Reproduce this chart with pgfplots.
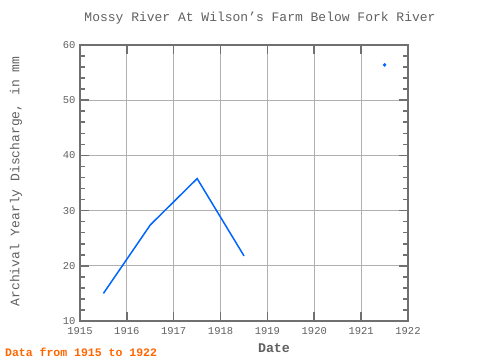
\documentclass[border=0pt]{standalone}
\usepackage{pgfplots}
\pgfplotsset{compat=1.18}
\usepackage{fontspec}
\setmainfont{Liberation Mono}
\definecolor{txt}{HTML}{606060}
\definecolor{frame}{HTML}{707070}
\definecolor{gridc}{HTML}{B0B0B0}
\definecolor{line}{HTML}{0066FF}
\definecolor{foot}{HTML}{FF6600}
\begin{document}
\begin{tikzpicture}
\useasboundingbox (-80pt,-39pt) rectangle (400pt,321pt);
\begin{axis}[
  at={(0,0)}, anchor=south west,
  scale only axis, width=328pt, height=276pt,
  xmin=1915, xmax=1922, ymin=10, ymax=60,
  xtick={1915,...,1922}, ytick={10,20,...,60},
  minor x tick num=5, minor y tick num=4,
  xticklabel style={/pgf/number format/1000 sep={}, font=\fontsize{10.5}{12}\selectfont, text=txt, yshift=-3pt},
  yticklabel style={font=\fontsize{10.5}{12}\selectfont, text=txt, xshift=-1pt},
  /pgf/number format/assume math mode=true,
  tick align=inside,
  major tick length=9pt, minor tick length=5pt,
  every tick/.style={frame, line width=1.6pt},
  axis line style={frame, line width=2pt},
  grid=major, major grid style={gridc, line width=0.8pt},
  clip=false,
]
\addplot[line, line width=1.5pt] coordinates {
  (1915.5,15.0) (1916.5,27.4) (1917.5,35.8) (1918.5,21.8)
};
\addplot[only marks, mark=*, mark size=1.6pt, line, mark options={fill=line, draw=line}] coordinates {
  (1921.5,56.4)
};
\end{axis}
\node[text=txt, font=\fontsize{13}{15}\selectfont] at (180pt,303pt) {Mossy River At Wilson's Farm Below Fork River};
\node[text=txt, font=\fontsize{13.3}{15}\selectfont\bfseries] at (194pt,-27pt) {Date};
\node[text=txt, font=\fontsize{13}{15}\selectfont, rotate=90] at (-64pt,139.5pt) {Archival Yearly Discharge, in mm};
\node[text=foot, font=\fontsize{11.5}{13}\selectfont\bfseries, anchor=west, inner sep=0pt] at (-75pt,-31pt) {Data from 1915 to 1922};
\end{tikzpicture}
\end{document}
